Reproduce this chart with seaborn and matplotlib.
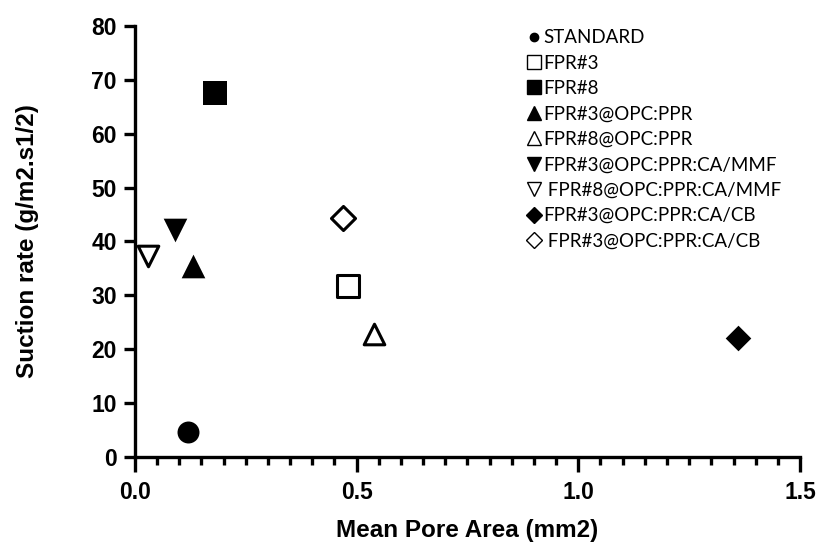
import matplotlib
matplotlib.use("Agg")
import matplotlib.pyplot as plt
from matplotlib.lines import Line2D
from matplotlib.ticker import MultipleLocator
import seaborn as sns

# ---- data ----
labels = ["STANDARD", "FPR#3", "FPR#8", "FPR#3@OPC:PPR", "FPR#8@OPC:PPR",
          "FPR#3@OPC:PPR:CA/MMF", " FPR#8@OPC:PPR:CA/MMF",
          "FPR#3@OPC:PPR:CA/CB", " FPR#3@OPC:PPR:CA/CB"]
pore_area = [0.12, 0.48, 0.18, 0.13, 0.54, 0.09, 0.03, 1.36, 0.47]
suction = [4.7, 31.7, 67.6, 35.4, 22.8, 42.1, 37.3, 22.1, 44.3]
markers = ["o", "s", "s", "^", "^", "v", "v", "D", "D"]
filled = [True, False, True, True, False, True, False, True, False]
sizes = [250, 240, 290, 290, 220, 290, 220, 170, 150]
legend_ms = [6, 10, 10, 10, 10, 10, 10, 8, 8]

sns.set_theme(style="ticks")
plt.rcParams["font.family"] = ["Liberation Sans", "DejaVu Sans"]
plt.rcParams["text.color"] = "black"
plt.rcParams["axes.labelcolor"] = "black"
plt.rcParams["xtick.color"] = "black"
plt.rcParams["ytick.color"] = "black"

fig = plt.figure(figsize=(8.18, 5.51), dpi=100)
ax = fig.add_axes([0.165, 0.1706, 0.813, 0.7824])

for lab, x, y, m, f, s in zip(labels, pore_area, suction, markers, filled, sizes):
    sns.scatterplot(x=[x], y=[y], marker=m, s=s,
                    color="black" if f else "white",
                    edgecolor="black", linewidth=0 if f else 2.2,
                    ax=ax, legend=False, zorder=3)

ax.set_xlim(0, 1.5)
ax.set_ylim(0, 80)
ax.xaxis.set_major_locator(MultipleLocator(0.5))
ax.xaxis.set_minor_locator(MultipleLocator(0.05))
ax.yaxis.set_major_locator(MultipleLocator(10))
ax.set_xticklabels([f"{v:.1f}" for v in ax.get_xticks()])

for side in ["top", "right"]:
    ax.spines[side].set_visible(False)
for side in ["left", "bottom"]:
    ax.spines[side].set_linewidth(2.4)
    ax.spines[side].set_color("black")

ax.tick_params(axis="both", which="major", width=2.4, length=8, color="black",
               labelcolor="black", labelsize=16.5, pad=5)
ax.tick_params(axis="x", which="major", length=11, pad=6)
ax.tick_params(axis="x", which="minor", width=2.4, length=6, color="black")
for t in ax.get_xticklabels() + ax.get_yticklabels():
    t.set_fontweight("bold")

ax.set_xlabel("Mean Pore Area (mm2)", fontsize=17.5, fontweight="bold",
              labelpad=11, color="black")
ax.set_ylabel("Suction rate (g/m2.s1/2)", fontsize=17.5, fontweight="bold",
              labelpad=38, color="black")

handles = []
for lab, m, f, ms in zip(labels, markers, filled, legend_ms):
    handles.append(Line2D([], [], linestyle="none", marker=m, markersize=ms,
                          markerfacecolor="black" if f else "white",
                          markeredgecolor="black", markeredgewidth=1.0))
leg = ax.legend(handles, labels, loc="upper left", bbox_to_anchor=(0.577, 1.01),
                frameon=False, handlelength=0.8, handletextpad=0.1,
                labelspacing=0.45, borderaxespad=0.0,
                prop={"family": ["Lato", "DejaVu Sans"], "size": 13.5})
for t in leg.get_texts():
    t.set_color("black")

fig.savefig("out.png", dpi=100)
